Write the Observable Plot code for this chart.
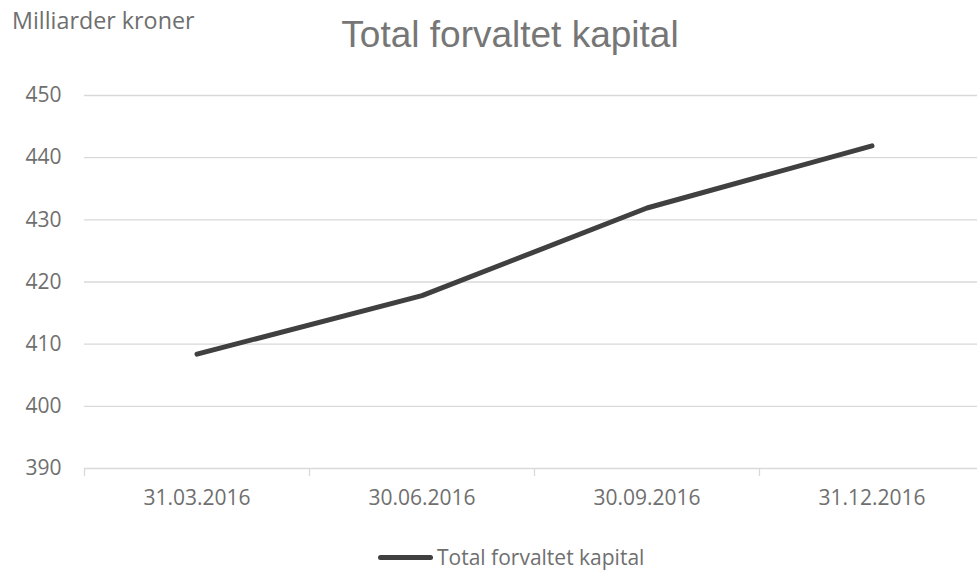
<!DOCTYPE html>
<html>
<head>
<meta charset="utf-8">
<script src="https://cdn.jsdelivr.net/npm/d3@7"></script>
<script src="https://cdn.jsdelivr.net/npm/@observablehq/plot@0.6"></script>
<style>
  body { margin: 0; background: #fff; }
  #wrap { position: relative; width: 977px; height: 571px; overflow: hidden; font-family: "Open Sans", sans-serif; }
  #chart { position: absolute; left: 0; top: 0; }
  .unit { position: absolute; left: 12px; top: 5px; font-size: 23.3px; line-height: 30px; color: #6f6f6f; white-space: nowrap; }
  .title { position: absolute; left: 0; width: 1020px; top: 14px; text-align: center; font-family: "Liberation Sans", Arial, sans-serif; font-size: 37px; line-height: 41px; color: #767676; }
  .legend { position: absolute; left: 378px; top: 547px; font-size: 21px; line-height: 21px; color: #6f6f6f; display: flex; align-items: center; white-space: nowrap; }
  .legend .sw { width: 55px; height: 5px; border-radius: 3px; background: #404040; margin-right: 4px; }
</style>
</head>
<body>
<div id="wrap">
  <div id="chart"></div>
  <div class="unit">Milliarder kroner</div>
  <div class="title">Total forvaltet kapital</div>
  <div class="legend"><span class="sw"></span><span>Total forvaltet kapital</span></div>
</div>
<script>
const dates = ["31.03.2016", "30.06.2016", "30.09.2016", "31.12.2016"];
const values = [408.4, 417.8, 431.9, 441.9];
const yTicks = [390, 400, 410, 420, 430, 440, 450];
const seriesName = "Total forvaltet kapital";

const data = dates.map((d, i) => ({date: d, value: values[i], series: seriesName}));

const xRange = [84, 984];
const step = (xRange[1] - xRange[0]) / dates.length;

const chart = Plot.plot({
  width: 977,
  height: 571,
  marginTop: 95,
  marginBottom: 103,
  marginLeft: 84,
  marginRight: 0,
  style: {fontFamily: "Open Sans, sans-serif", background: "transparent", overflow: "visible"},
  x: {type: "band", domain: dates, range: xRange, padding: 0},
  y: {domain: [390, 450]},
  marks: [
    Plot.gridY(yTicks, {stroke: "#d9d9d9", strokeOpacity: 1, strokeWidth: 1.3}),
    Plot.ruleX(dates, {x: d => d, dx: -step / 2, y1: 390, y2: 390, insetBottom: -8, stroke: "#d9d9d9", strokeWidth: 1.3}),
    Plot.axisY(yTicks, {tickSize: 0, tickPadding: 23, fontSize: 21, fill: "#6f6f6f", label: null}),
    Plot.axisX(dates, {tickSize: 0, tickPadding: 22, fontSize: 21, fill: "#6f6f6f", label: null}),
    Plot.line(data, {x: "date", y: "value", stroke: "#404040", strokeWidth: 5, strokeLinecap: "round", strokeLinejoin: "round"})
  ]
});
document.getElementById("chart").appendChild(chart);
</script>
</body>
</html>
